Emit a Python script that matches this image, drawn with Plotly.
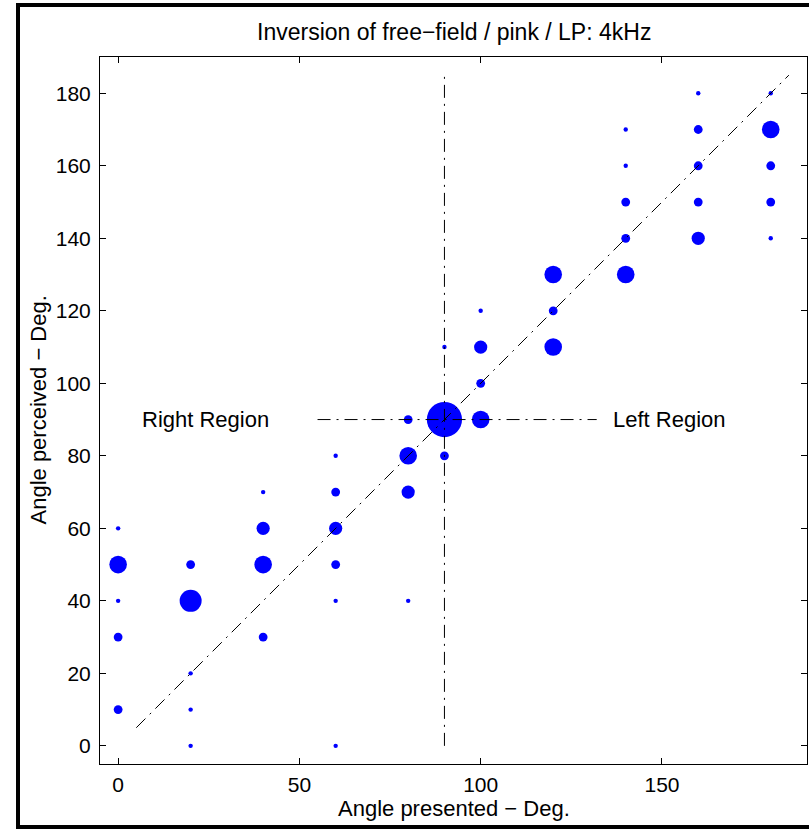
import plotly.graph_objects as go

# ---- data ----
presented = [0, 0, 0, 0, 0,
             20, 20, 20, 20, 20,
             40, 40, 40, 40,
             60, 60, 60, 60, 60, 60,
             80, 80, 80, 80,
             90, 90, 90,
             100, 100, 100, 100,
             120, 120, 120,
             140, 140, 140, 140, 140,
             160, 160, 160, 160, 160,
             180, 180, 180, 180, 180]
perceived = [60, 50, 40, 30, 10,
             50, 40, 20, 10, 0,
             70, 60, 50, 30,
             80, 70, 60, 50, 40, 0,
             90, 80, 70, 40,
             110, 90, 80,
             120, 110, 100, 90,
             130, 120, 110,
             170, 160, 150, 140, 130,
             180, 170, 160, 150, 140,
             180, 170, 160, 150, 140]
counts = [1, 4, 1, 2, 2,
          2, 5, 1, 1, 1,
          1, 3, 4, 2,
          1, 2, 3, 2, 1, 1,
          2, 4, 3, 1,
          1, 8, 2,
          1, 3, 2, 4,
          4, 2, 4,
          1, 1, 2, 2, 4,
          1, 2, 2, 2, 3,
          1, 4, 2, 2, 1]

diag_x = [5, 185]
diag_y = [5, 185]
vert_x = [90, 90]
vert_y = [0, 185]
horiz_x = [55, 132]
horiz_y = [90, 90]

x_ticks = [0, 50, 100, 150]
y_ticks = [0, 20, 40, 60, 80, 100, 120, 140, 160, 180]
axis_range = [-5, 190]

title_text = "Inversion of free\u2212field / pink / LP: 4kHz"
x_title = "Angle presented \u2212 Deg."
y_title = "Angle perceived \u2212 Deg."
region_labels = ["Right Region", "Left Region"]
region_x = [24, 152]
region_y = [90, 90]

# ---- figure ----
FONT = "Liberation Sans, Arial, Helvetica, sans-serif"
TXT = 22
SIZE_PER_COUNT = 4.4
DASH = "13px,6px,2px,6px"

fig = go.Figure()
fig.add_trace(go.Scatter(
    x=presented, y=perceived, mode="markers",
    marker=dict(color="#0000ff", opacity=1,
                size=[c * SIZE_PER_COUNT for c in counts],
                line=dict(width=0)),
    hoverinfo="skip", showlegend=False))

for lx, ly in [(diag_x, diag_y), (vert_x, vert_y), (horiz_x, horiz_y)]:
    fig.add_trace(go.Scatter(
        x=lx, y=ly, mode="lines",
        line=dict(color="black", width=1, dash=DASH),
        hoverinfo="skip", showlegend=False))

for t, xx, yy in zip(region_labels, region_x, region_y):
    fig.add_annotation(x=xx, y=yy, text=t, showarrow=False,
                       xref="x", yref="y",
                       font=dict(family=FONT, size=TXT, color="black"))

W, H = 809, 829
L, R, T, B = 100, 2, 57, 65
pw, ph = W - L - R, H - T - B


def px_to_paper_x(px):
    return (px - L) / pw


def px_to_paper_y(py):
    return (H - B - py) / ph


# titles
fig.add_annotation(x=0.5, y=px_to_paper_y(32), xref="paper", yref="paper",
                   text=title_text, showarrow=False, yanchor="middle",
                   font=dict(family=FONT, size=23, color="black"))
fig.add_annotation(x=0.5, y=px_to_paper_y(808), xref="paper", yref="paper",
                   text=x_title, showarrow=False, yanchor="middle",
                   font=dict(family=FONT, size=TXT, color="black"))
fig.add_annotation(x=px_to_paper_x(38), y=0.5, xref="paper", yref="paper",
                   text=y_title, showarrow=False, textangle=-90,
                   xanchor="center", yanchor="middle",
                   font=dict(family=FONT, size=TXT, color="black"))

# outer frame
fig.add_shape(type="rect", xref="paper", yref="paper",
              x0=px_to_paper_x(18), x1=px_to_paper_x(824),
              y0=px_to_paper_y(827), y1=px_to_paper_y(5),
              line=dict(color="black", width=4), fillcolor="rgba(0,0,0,0)",
              layer="above")

axis_common = dict(
    range=axis_range, showgrid=False, zeroline=False,
    showline=True, linecolor="black", linewidth=1, mirror="ticks",
    ticks="inside", ticklen=6, tickwidth=1, tickcolor="black",
    tickfont=dict(family=FONT, size=21, color="black"),
)

fig.update_layout(
    width=W, height=H,
    margin=dict(l=L, r=R, t=T, b=B, pad=0),
    paper_bgcolor="white", plot_bgcolor="white",
    xaxis=dict(tickvals=x_ticks, ticklabelstandoff=2, **axis_common),
    yaxis=dict(tickvals=y_ticks, ticklabelstandoff=4, **axis_common),
    showlegend=False,
)

fig.write_html("out.html")
